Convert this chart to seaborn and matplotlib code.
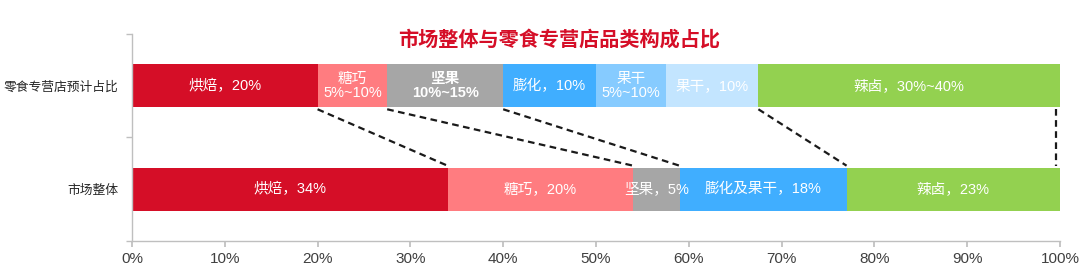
import matplotlib
matplotlib.use("Agg")
import matplotlib.pyplot as plt
import seaborn as sns
import pandas as pd

sns.set_theme(style="white")
plt.rcParams['font.family'] = ['Liberation Sans', 'Noto Sans CJK SC', 'DejaVu Sans']

rows = ['零食专营店预计占比', '市场整体']

top_labels = ['烘焙，20%', '糖巧\n5%~10%', '坚果\n10%~15%', '膨化，10%', '果干\n5%~10%', '果干，10%', '辣卤，30%~40%']
top_values = [20, 7.5, 12.5, 10, 7.5, 10, 32.5]
top_colors = ['#D50E27', '#FF7C80', '#A6A6A6', '#40AEFF', '#86CBFF', '#C3E5FF', '#93D150']
top_bold = [False, False, True, False, False, False, False]

bot_labels = ['烘焙，34%', '糖巧，20%', '坚果，5%', '膨化及果干，18%', '辣卤，23%']
bot_values = [34, 20, 5, 18, 23]
bot_colors = ['#D50E27', '#FF7C80', '#A6A6A6', '#40AEFF', '#93D150']

# connector lines: (boundary on top bar, boundary on bottom bar)
link_top = [20, 27.5, 40, 67.5, 99.6]
link_bot = [34, 54, 59, 77, 99.6]

x_ticks = list(range(0, 101, 10))
title = '市场整体与零食专营店品类构成占比'

fig = plt.figure(figsize=(10.8, 2.65), dpi=100)
ax = fig.add_axes([0.1222, 0.0906, 0.8593, 0.7812])

bar_h = 0.415

def draw_row(row, labels, values, colors, bolds=None):
    start = 0
    for i, (lab, v, c) in enumerate(zip(labels, values, colors)):
        df = pd.DataFrame({'row': [row], 'value': [v]})
        sns.barplot(data=df, x='value', y='row', order=rows, orient='h',
                    color=c, width=bar_h, left=start, ax=ax,
                    saturation=1, errorbar=None, linewidth=0)
        bold = bolds[i] if bolds else False
        ax.text(start + v / 2, rows.index(row), lab, ha='center', va='center',
                color='white', fontsize=10.5, linespacing=1.0,
                fontweight='bold' if bold else 'normal')
        start += v

draw_row(rows[0], top_labels, top_values, top_colors, top_bold)
draw_row(rows[1], bot_labels, bot_values, bot_colors)

for xt, xb in zip(link_top, link_bot):
    ax.plot([xt, xb], [0 + bar_h / 2 + 0.02, 1 - bar_h / 2 - 0.02],
            color='#1a1a1a', lw=1.6, ls=(0, (3, 2)), zorder=1)

ax.set_xlim(0, 100)
ax.set_ylim(1.5, -0.5)
ax.set_xticks(x_ticks)
ax.set_xticklabels([f'{t}%' for t in x_ticks])
ax.set_yticks([0, 1])
ax.set_yticklabels(rows)
ax.set_yticks([-0.5, 0.5, 1.5], minor=True)
ax.set_xlabel('')
ax.set_ylabel('')

for s in ['top', 'right']:
    ax.spines[s].set_visible(False)
for s in ['left', 'bottom']:
    ax.spines[s].set_color('#BFBFBF')
    ax.spines[s].set_linewidth(1.0)

ax.tick_params(axis='y', which='major', length=0, pad=10, labelsize=9.2, labelcolor='#262626')
ax.tick_params(axis='y', which='minor', length=4, color='#BFBFBF', left=True)
ax.tick_params(axis='x', which='major', length=4, color='#BFBFBF', bottom=True,
               labelsize=11, labelcolor='#404040', pad=4)

fig.text(0.518, 0.849, title, ha='center', va='center', color='#D50E27',
         fontsize=14.5, fontweight='bold')

fig.savefig('out.png', dpi=100)
